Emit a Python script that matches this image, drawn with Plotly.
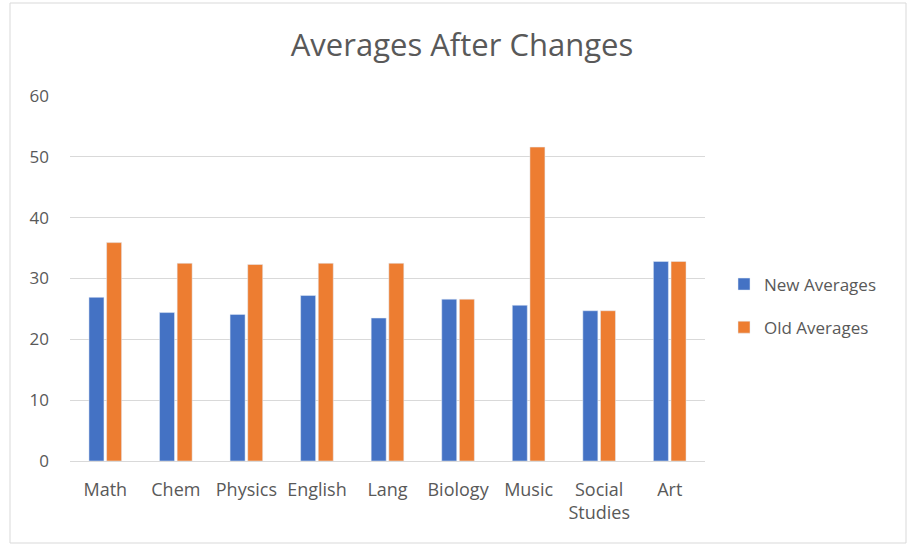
import plotly.graph_objects as go

categories = ["Math", "Chem", "Physics", "English", "Lang", "Biology", "Music", "Social<br>Studies", "Art"]
new_averages = [26.9, 24.4, 24.1, 27.2, 23.5, 26.6, 25.6, 24.7, 32.8]
old_averages = [35.9, 32.5, 32.3, 32.5, 32.5, 26.6, 51.6, 24.7, 32.8]
y_ticks = [0, 10, 20, 30, 40, 50, 60]

FONT = "Open Sans"
GRAY = "#595959"

fig = go.Figure()
fig.add_trace(go.Bar(x=categories, y=new_averages, name="New Averages",
                     marker_color="#4472C4", legendgroup="a"))
fig.add_trace(go.Bar(x=categories, y=old_averages, name="Old Averages",
                     marker_color="#ED7D31", legendgroup="b"))

L, R, T, B = 70, 202, 96, 84
W, H = 907, 545
pw, ph = W - L - R, H - T - B

def px(x):
    return (x - L) / pw

def py(y):
    return (H - B - y) / ph

fig.update_layout(
    width=W, height=H,
    margin=dict(l=L, r=R, t=T, b=B),
    paper_bgcolor="white", plot_bgcolor="white",
    barmode="group", bargap=0.5, bargroupgap=0.15,
    font=dict(family=FONT, color=GRAY, size=17),
    title=dict(text="Averages After Changes", x=(462) / W, xanchor="center",
               y=1 - 45 / H, yanchor="middle",
               font=dict(size=31, color=GRAY, family=FONT)),
    legend=dict(x=px(724), y=py(306), xanchor="left", yanchor="middle",
                font=dict(size=17, color=GRAY), tracegroupgap=18, itemwidth=30,
                traceorder="grouped"),
    showlegend=True,
)
fig.update_yaxes(range=[0, 60], tickvals=y_ticks, showgrid=True, gridcolor="#D9D9D9",
                 gridwidth=1, zeroline=False, showline=False, ticks="", ticklen=0,
                 ticklabelstandoff=20,
                 tickfont=dict(size=17, color=GRAY), automargin=False)
fig.update_xaxes(showline=True, linecolor="#D9D9D9", linewidth=1, ticks="",
                 ticklabelstandoff=12,
                 tickfont=dict(size=18, color=GRAY), automargin=False, tickangle=0)
fig.add_shape(type="rect", xref="paper", yref="paper",
              x0=px(10), x1=px(906), y0=py(543), y1=py(3),
              line=dict(color="#D9D9D9", width=1), fillcolor="rgba(0,0,0,0)", layer="below")

fig.write_html("out.html")
